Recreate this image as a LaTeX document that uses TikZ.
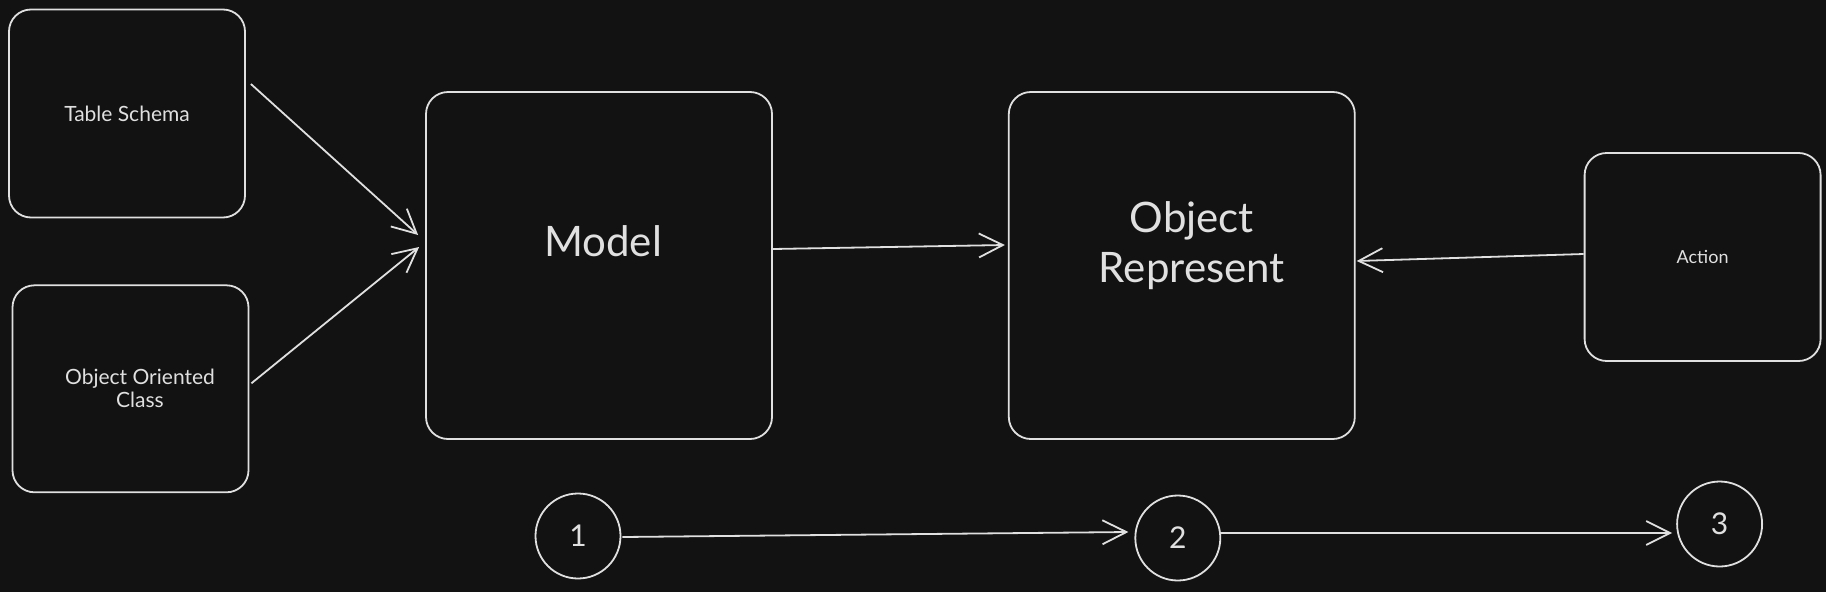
\documentclass[tikz,border=0pt]{standalone}
\usepackage{fontspec}
\setmainfont{Lato}
\usetikzlibrary{positioning, arrows.meta}
\definecolor{bgdark}{HTML}{121212}
\definecolor{chalk}{HTML}{E0E0E0}
\tikzset{
    sketchbox/.style={draw=chalk, line width=1.8pt, rounded corners=22pt, text=chalk, align=center},
    smallbox/.style={sketchbox, minimum width=236pt, minimum height=208pt, font=\fontsize{21}{25}\selectfont},
    bigbox/.style={sketchbox, minimum width=346pt, minimum height=347pt},
    bigtext/.style={text=chalk, align=center, font=\fontsize{42}{50}\selectfont},
    stepnode/.style={circle, draw=chalk, line width=1.8pt, minimum size=85pt, text=chalk, font=\fontsize{30}{36}\selectfont},
    sketcharrow/.style={-{Straight Barb[length=24pt,width=24pt]}, draw=chalk, line width=1.8pt}
}

\begin{document}
\begin{tikzpicture}[x=1pt, y=-1pt, node distance=235pt]
        \path[use as bounding box] (0,0) rectangle (1826,592);
        \fill[bgdark] (0,0) rectangle (1826,592);
        % inputs
        \node[smallbox] (schema) at (127,113.5) {Table Schema};
        \node[smallbox, below=66pt of schema, xshift=3.5pt, minimum height=207pt] (oop) {\hspace*{19pt}Object Oriented\\[-2pt]\hspace*{19pt}Class};
        % main boxes
        \node[bigbox, label={[bigtext, xshift=4pt, yshift=24.5pt]center:Model}] (model) at (599,265.5) {};
        \node[bigbox, right=of model, label={[bigtext, xshift=10pt, yshift=19.5pt]center:Object\\Represent}] (objrep) {};
        \node[smallbox, right=228pt of objrep, yshift=8.5pt, font=\fontsize{18}{22}\selectfont] (action) {Action};
        % steps
        \node[stepnode] (one) at (578,536) {1};
        \node[stepnode, right=513pt of one, yshift=-2pt] (two) {2};
        \node[stepnode, right=455pt of two, yshift=14pt] (three) {3};
        \draw[sketcharrow] ([shift={(5,-29.5)}]schema.east) -- ([shift={(-7,-30.5)}]model.west);
        \draw[sketcharrow] ([shift={(2,-5.5)}]oop.east) -- ([shift={(-6,-18.5)}]model.west);
        \draw[sketcharrow] ([shift={(0,-16.5)}]model.east) -- ([shift={(-3,-20.5)}]objrep.west);
        \draw[sketcharrow] ([shift={(0,-3)}]action.west) -- ([shift={(1,-4.5)}]objrep.east);
        \draw[sketcharrow] ([shift={(1,1)}]one.east) -- ([shift={(-6,-6)}]two.west);
        \draw[sketcharrow] ([shift={(0,-5)}]two.east) -- ([shift={(-4,9)}]three.west);
    \end{tikzpicture}
\end{document}
